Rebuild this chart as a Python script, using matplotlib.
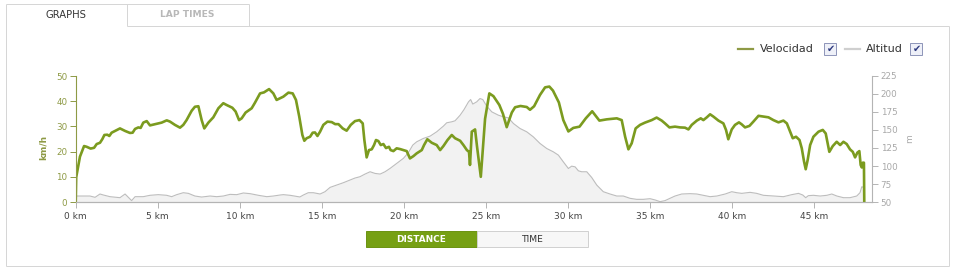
import matplotlib
matplotlib.use("Agg")
import matplotlib.pyplot as plt
from matplotlib.patches import Rectangle
from matplotlib.lines import Line2D

plt.rcParams['font.family'] = ['DejaVu Sans']

# ---------------- data ----------------
speed_km = [0.0, 0.03, 0.26, 0.51, 0.67, 0.91, 1.12, 1.28, 1.48, 1.62, 1.75, 1.93, 2.05, 2.19, 2.40,
            2.70, 3.01, 3.31, 3.47, 3.62, 3.82, 3.96, 4.12, 4.33, 4.53, 4.84, 5.24, 5.55, 5.75, 6.05,
            6.36, 6.56, 6.76, 7.07, 7.27, 7.48, 7.68, 7.84, 8.09, 8.39, 8.70, 9.00, 9.20, 9.55, 9.75,
            9.96, 10.12, 10.36, 10.73, 10.93, 11.24, 11.48, 11.79, 12.05, 12.25, 12.66, 12.97, 13.23,
            13.43, 13.63, 13.82, 13.94, 14.08, 14.29, 14.45, 14.59, 14.74, 14.90, 15.10, 15.35, 15.61,
            15.82, 16.02, 16.28, 16.52, 16.77, 17.03, 17.30, 17.50, 17.60, 17.74, 17.88, 18.05, 18.19,
            18.31, 18.45, 18.60, 18.76, 18.92, 19.10, 19.20, 19.37, 19.57, 19.78, 19.98, 20.18, 20.38,
            20.59, 20.79, 21.10, 21.24, 21.44, 21.71, 22.01, 22.22, 22.42, 22.67, 22.93, 23.13, 23.44,
            23.64, 23.85, 23.98, 24.04, 24.15, 24.35, 24.47, 24.70, 24.96, 25.22, 25.47, 25.83, 26.05,
            26.28, 26.59, 26.79, 27.12, 27.50, 27.70, 27.95, 28.31, 28.62, 28.88, 29.10, 29.46, 29.73,
            30.04, 30.34, 30.72, 31.10, 31.49, 31.67, 31.93, 32.38, 32.99, 33.29, 33.50, 33.70, 33.90,
            34.14, 34.41, 34.71, 35.12, 35.42, 35.73, 35.93, 36.20, 36.54, 36.85, 37.15, 37.36, 37.56,
            37.87, 38.11, 38.27, 38.48, 38.68, 38.88, 39.19, 39.49, 39.65, 39.79, 40.00, 40.20, 40.44,
            40.61, 40.81, 41.08, 41.32, 41.63, 41.93, 42.24, 42.54, 42.85, 43.15, 43.36, 43.56, 43.72,
            43.92, 44.13, 44.27, 44.41, 44.51, 44.63, 44.78, 44.98, 45.29, 45.55, 45.73, 45.83, 45.95,
            46.16, 46.40, 46.61, 46.81, 47.01, 47.21, 47.38, 47.52, 47.66, 47.78, 47.86, 47.93, 47.99,
            48.06, 48.08]
speed_kmh = [0, 9.8, 18.0, 22.2, 21.9, 21.2, 21.5, 23.0, 23.5, 24.9, 26.6, 26.7, 26.2, 27.5, 28.2,
             29.2, 28.2, 27.4, 27.5, 29.0, 29.6, 29.4, 31.5, 32.1, 30.4, 30.9, 31.5, 32.4, 31.9, 30.6,
             29.5, 30.6, 32.5, 36.2, 37.8, 38.0, 32.5, 29.2, 31.5, 33.6, 37.2, 39.2, 38.5, 37.4, 35.9,
             32.5, 33.2, 35.5, 37.2, 39.4, 43.1, 43.5, 44.8, 43.1, 40.5, 41.8, 43.4, 43.1,
             40.5, 33.9, 26.6, 24.3, 25.3, 25.9, 27.5, 27.6, 26.2, 27.9, 30.6, 31.9, 31.7,
             30.9, 30.9, 29.2, 28.3, 30.6, 32.1, 32.5, 31.2, 24.6, 17.7, 20.6, 20.9, 22.6,
             24.6, 24.2, 22.6, 23.0, 21.4, 21.9, 20.6, 20.2, 21.3, 21.0, 20.6, 20.2, 17.3,
             18.2, 19.3, 20.6, 22.6, 24.9, 23.5, 22.6, 20.6, 22.2, 24.6, 26.6, 25.3, 24.3,
             22.6, 20.6, 19.9, 14.7, 27.9, 28.8, 22.0, 10.0, 33.0, 43.1, 42.0, 38.5, 35.0,
             29.7, 35.5, 37.6, 38.1, 37.7, 36.6, 38.0, 42.5, 45.5, 45.8, 44.2, 39.5, 32.5,
             28.0, 29.4, 29.9, 33.2, 36.0, 34.5, 32.3, 32.8, 33.2, 32.5, 25.9, 20.9, 23.3,
             29.2, 30.6, 31.5, 32.5, 33.5, 32.3, 31.2, 29.6, 29.9, 29.6, 29.5, 28.8, 30.6,
             32.3, 33.2, 32.5, 33.6, 34.8, 33.9, 32.3, 31.2, 28.6, 24.9, 28.8, 30.6, 31.6,
             30.8, 29.6, 30.2, 31.9, 34.2, 33.9, 33.6, 32.5, 31.6, 32.3, 31.2, 27.9, 25.3,
             25.9, 24.6, 21.3, 16.0, 13.0, 16.7, 22.6, 25.9, 27.9, 28.6, 27.2, 23.9, 19.9,
             22.2, 23.9, 22.6, 23.9, 23.0, 20.9, 19.9, 17.7, 19.6, 20.2, 14.7, 13.7, 15.6,
             15.6, 0]

alt_km = [0.0, 0.87, 1.18, 1.48, 1.69, 2.09, 2.70, 3.01, 3.27, 3.41, 3.62, 4.12, 4.53, 5.04, 5.55,
          5.85, 6.16, 6.56, 6.87, 7.27, 7.68, 8.19, 8.60, 9.00, 9.41, 9.82, 10.22, 10.63, 11.14,
          11.65, 12.05, 12.46, 12.66, 13.07, 13.67, 13.88, 14.18, 14.49, 14.90, 15.20, 15.51, 15.91,
          16.32, 16.72, 17.03, 17.33, 17.64, 17.95, 18.25, 18.56, 18.86, 19.17, 19.57, 19.98, 20.28,
          20.55, 20.79, 21.20, 21.61, 22.01, 22.42, 22.62, 22.93, 23.13, 23.44, 23.68, 23.95, 24.08,
          24.21, 24.45, 24.65, 24.82, 25.06, 25.37, 25.77, 26.08, 26.38, 26.69, 27.09, 27.50, 27.90,
          28.31, 28.72, 29.12, 29.43, 29.73, 30.04, 30.24, 30.45, 30.65, 30.85, 31.16, 31.46, 31.77,
          32.17, 32.58, 32.99, 33.39, 33.80, 34.20, 34.61, 35.02, 35.33, 35.63, 35.93, 36.24, 36.54,
          36.95, 37.46, 37.87, 38.27, 38.68, 39.09, 39.60, 40.00, 40.31, 40.61, 41.12, 41.52, 41.93,
          42.54, 43.15, 43.66, 44.07, 44.33, 44.51, 44.67, 44.98, 45.39, 45.80, 46.10, 46.41, 46.81,
          47.21, 47.62, 47.82, 47.93, 48.06]
alt_m = [58.3, 58.3, 56.5, 61.1, 59.7, 57.4, 56.0, 61.1, 55.1, 51.9, 57.4, 57.4, 59.3, 60.2, 59.3,
         57.4, 60.2, 62.9, 62.0, 58.3, 56.9, 58.3, 57.4, 58.3, 60.6, 60.2, 62.5, 61.6, 59.3,
         57.4, 58.3, 59.7, 60.2, 59.3, 57.0, 59.7, 62.9, 62.9, 61.1, 64.3, 70.3, 73.5,
         76.8, 80.5, 83.3, 85.1, 88.8, 92.0, 89.7, 88.8, 92.0, 96.7, 103.6, 110.6, 118.4,
         129.0, 133.6, 138.3, 141.5, 147.5, 155.4, 160.0, 161.4, 162.8, 170.6, 178.5, 189.1, 192.3,
         186.0, 189.1, 193.7, 192.3, 183.1, 175.2, 170.6, 168.3, 166.9, 159.0, 152.1, 147.5, 140.5,
         131.3, 124.3, 119.7, 115.1, 105.8, 96.5, 99.8, 98.8, 93.3, 92.0, 92.0, 84.1, 73.5,
         64.3, 61.1, 58.3, 58.3, 55.1, 53.7, 53.7, 54.6, 52.8, 50.5, 51.9, 55.1, 58.3,
         61.1, 61.6, 61.1, 59.3, 57.4, 58.3, 61.1, 64.3, 62.9, 62.0, 63.4, 62.0, 59.3,
         58.3, 57.4, 60.2, 62.0, 59.7, 56.0, 58.8, 59.3, 58.3, 59.3, 61.1, 58.3, 56.0,
         56.0, 58.3, 62.9, 71.2, 70.0]

x_ticks = [0, 5, 10, 15, 20, 25, 30, 35, 40, 45]
x_labels = [f"{t} km" for t in x_ticks]
speed_ticks = [0, 10, 20, 30, 40, 50]
alt_ticks = [50, 75, 100, 125, 150, 175, 200, 225]

# ---------------- styling ----------------
W, H = 957, 276
GREEN = '#7b9b1f'
OLIVE = '#8e9a45'
GRAY_AX = '#b4b4b4'
BORDER = '#d6d6d6'

fig = plt.figure(figsize=(W / 100, H / 100), dpi=100)
fig.patch.set_facecolor('white')

# overlay for UI chrome in pixel coordinates
ui = fig.add_axes([0, 0, 1, 1], zorder=0)
ui.set_xlim(0, W)
ui.set_ylim(H, 0)
ui.axis('off')

def seg(x0, y0, x1, y1, c=BORDER, lw=1.0):
    ui.add_line(Line2D([x0, x1], [y0, y1], color=c, lw=lw * 0.72, solid_capstyle='butt'))

# tabs + panel border
seg(5.5, 3.5, 5.5, 265.5)
seg(5.5, 3.5, 248.5, 3.5)
seg(126.5, 3.5, 126.5, 25.5)
seg(248.5, 3.5, 248.5, 25.5)
seg(126.5, 25.5, 948.5, 25.5)
seg(948.5, 25.5, 948.5, 265.5)
seg(5.5, 265.5, 948.5, 265.5)
ui.text(66, 14.5, "GRAPHS", fontsize=7.2, color='#333333', ha='center', va='center')
ui.text(187, 14.5, "LAP TIMES", fontsize=6.6, color='#b8b8b8', ha='center', va='center',
        fontweight='bold')

# legend
ui.add_line(Line2D([738, 753], [49, 49], color=OLIVE, lw=1.6))
ui.text(760, 49, "Velocidad", fontsize=8, color='#333333', ha='left', va='center')
ui.add_line(Line2D([845, 860], [49, 49], color='#cfcfcf', lw=1.6))
ui.text(866, 49, "Altitud", fontsize=8, color='#333333', ha='left', va='center')
for cx in (824, 910):
    ui.add_patch(Rectangle((cx, 43), 12, 12, facecolor='#eef0f8', edgecolor='#8d94b8', lw=0.7))
    ui.text(cx + 6.5, 48.5, "\u2714", fontsize=7, color='#2e3a80', ha='center', va='center')

# buttons
ui.add_patch(Rectangle((366, 231), 111, 16, facecolor='#76a014', edgecolor='#6b9312', lw=0.7))
ui.text(421.5, 239.5, "DISTANCE", fontsize=6.4, color='white', ha='center', va='center',
        fontweight='bold')
ui.add_patch(Rectangle((477, 231), 111, 16, facecolor='#f7f7f7', edgecolor='#d0d0d0', lw=0.7))
ui.text(532.5, 239.5, "TIME", fontsize=6.6, color='#333333', ha='center', va='center')

# axis titles
ui.text(43, 147, "km/h", fontsize=6.5, color=OLIVE, rotation=90, ha='center', va='center',
        fontweight='bold')
ui.text(910, 139, "m", fontsize=6.5, color='#aaaaaa', rotation=90, ha='center', va='center')

# ---------------- chart ----------------
left, right, top, bottom = 75.7, 872.3, 76.0, 202.0
ax = fig.add_axes([left / W, (H - bottom) / H, (right - left) / W, (bottom - top) / H], zorder=3)
ax2 = ax.twinx()
ax.set_zorder(ax2.get_zorder() + 1)
ax.patch.set_visible(False)

ax2.fill_between(alt_km, alt_m, 50, color='#f2f2f2', lw=0)
ax2.plot(alt_km, alt_m, color='#bdbdbd', lw=0.8)
ax.plot(speed_km, speed_kmh, color=GREEN, lw=1.9, solid_joinstyle='round')

ax.set_xlim(0, 48.57)
ax.set_ylim(0, 50)
ax2.set_ylim(50, 225)

for a in (ax, ax2):
    a.spines['top'].set_visible(False)
    a.spines['bottom'].set_color(GRAY_AX)
    a.spines['left'].set_visible(False)
    a.spines['right'].set_visible(False)

ax.spines['left'].set_visible(True)
ax.spines['left'].set_color(OLIVE)
ax2.spines['right'].set_visible(True)
ax2.spines['right'].set_color(GRAY_AX)
ax.spines['bottom'].set_color(GRAY_AX)

ax.set_xticks(x_ticks)
ax.set_xticklabels(x_labels)
ax.tick_params(axis='x', colors=GRAY_AX, labelcolor='#444444', labelsize=6.5, length=4,
               width=0.7, pad=3)
ax.set_yticks(speed_ticks)
ax.tick_params(axis='y', colors=OLIVE, labelcolor=OLIVE, labelsize=6.3, length=4, width=0.7, pad=2)
ax2.set_yticks(alt_ticks)
ax2.tick_params(axis='y', colors=GRAY_AX, labelcolor='#a8a8a8', labelsize=6.3, length=4,
                width=0.7, pad=2)

fig.savefig("out.png", dpi=100, facecolor='white')
